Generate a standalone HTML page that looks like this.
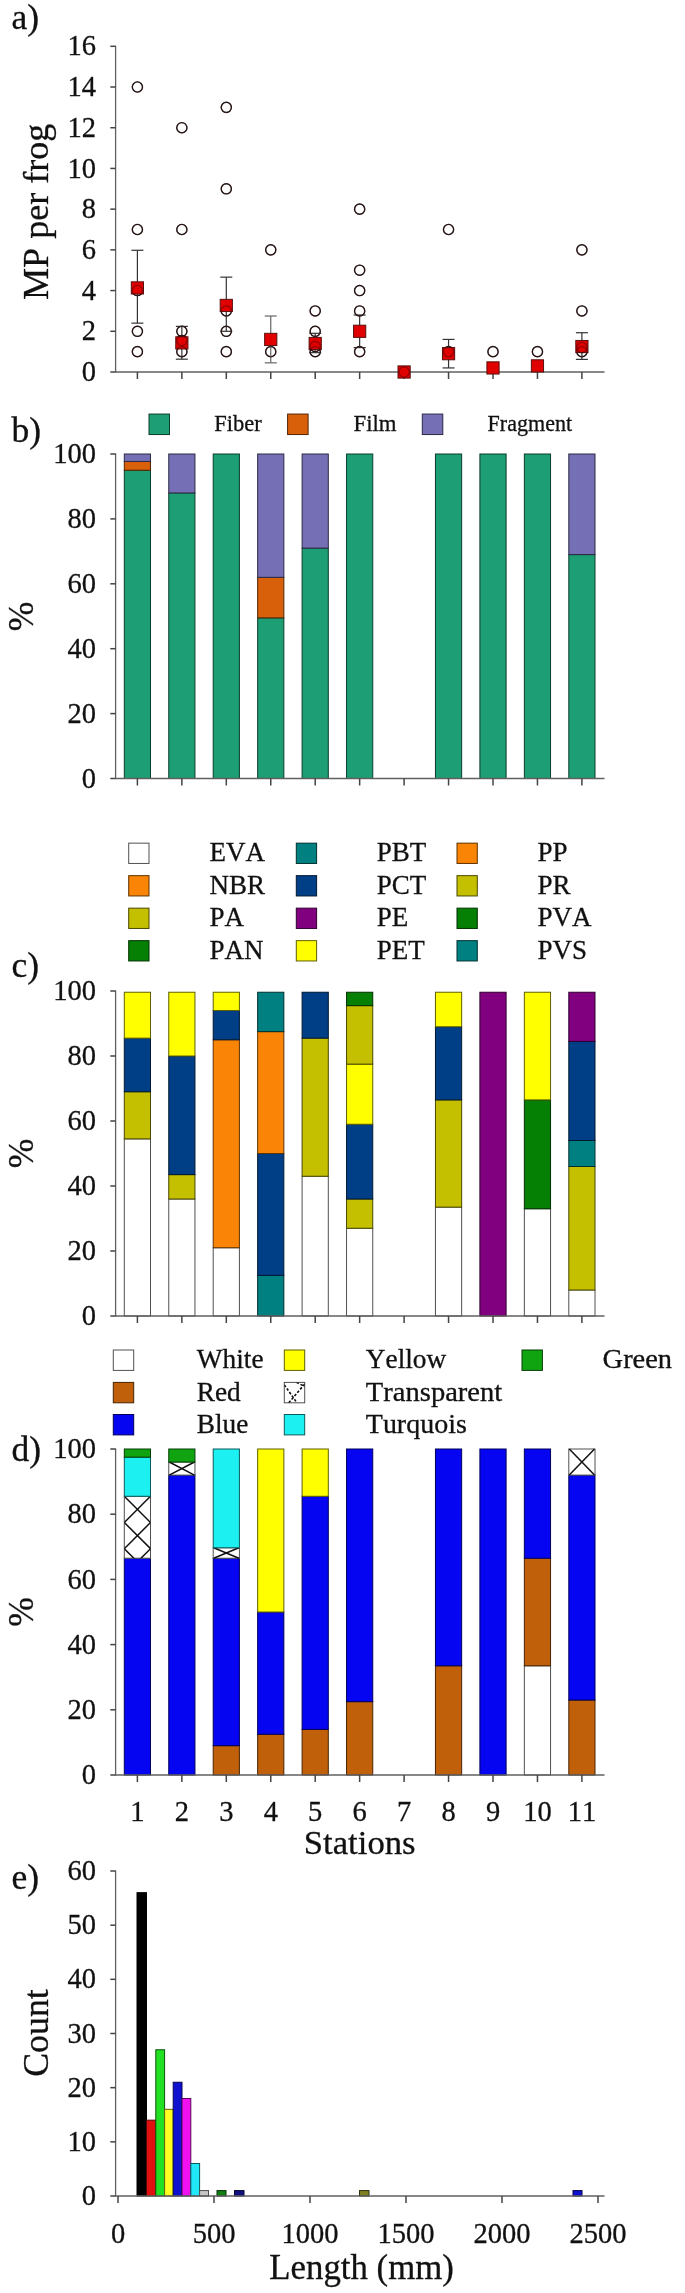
<!DOCTYPE html>
<html><head><meta charset="utf-8"><title>chart</title>
<style>
html,body{margin:0;padding:0;background:#fff;}
body{width:685px;height:2293px;overflow:hidden;font-family:"Liberation Serif",serif;}
svg{display:block;will-change:transform;}
svg text{font-family:"Liberation Serif",serif;font-kerning:none;stroke:#111;stroke-width:0.3px;}
</style></head>
<body>
<svg width="685" height="2293" viewBox="0 0 685 2293">
<rect x="0" y="0" width="685" height="2293" fill="#fff"/>
<text x="11.5" y="28.8" font-size="35.5" text-anchor="start" fill="#111" >a)</text>
<text transform="translate(48.0,211.8) rotate(-90)" font-size="36.1" text-anchor="middle" fill="#111">MP per frog</text>
<line x1="115.60" y1="45.70" x2="115.60" y2="372.60" stroke="#606060" stroke-width="1.3"/>
<line x1="110.30" y1="372.00" x2="115.60" y2="372.00" stroke="#444" stroke-width="1.5"/>
<text x="96.0" y="381.1" font-size="28.5" text-anchor="end" fill="#111" >0</text>
<line x1="110.30" y1="331.29" x2="115.60" y2="331.29" stroke="#444" stroke-width="1.5"/>
<text x="96.0" y="340.4" font-size="28.5" text-anchor="end" fill="#111" >2</text>
<line x1="110.30" y1="290.57" x2="115.60" y2="290.57" stroke="#444" stroke-width="1.5"/>
<text x="96.0" y="299.7" font-size="28.5" text-anchor="end" fill="#111" >4</text>
<line x1="110.30" y1="249.86" x2="115.60" y2="249.86" stroke="#444" stroke-width="1.5"/>
<text x="96.0" y="259.0" font-size="28.5" text-anchor="end" fill="#111" >6</text>
<line x1="110.30" y1="209.15" x2="115.60" y2="209.15" stroke="#444" stroke-width="1.5"/>
<text x="96.0" y="218.2" font-size="28.5" text-anchor="end" fill="#111" >8</text>
<line x1="110.30" y1="168.44" x2="115.60" y2="168.44" stroke="#444" stroke-width="1.5"/>
<text x="96.0" y="177.5" font-size="28.5" text-anchor="end" fill="#111" >10</text>
<line x1="110.30" y1="127.73" x2="115.60" y2="127.73" stroke="#444" stroke-width="1.5"/>
<text x="96.0" y="136.8" font-size="28.5" text-anchor="end" fill="#111" >12</text>
<line x1="110.30" y1="87.01" x2="115.60" y2="87.01" stroke="#444" stroke-width="1.5"/>
<text x="96.0" y="96.1" font-size="28.5" text-anchor="end" fill="#111" >14</text>
<line x1="110.30" y1="46.30" x2="115.60" y2="46.30" stroke="#444" stroke-width="1.5"/>
<text x="96.0" y="55.4" font-size="28.5" text-anchor="end" fill="#111" >16</text>
<line x1="115.00" y1="372.00" x2="604.50" y2="372.00" stroke="#606060" stroke-width="1.3"/>
<line x1="137.40" y1="372.00" x2="137.40" y2="379.00" stroke="#444" stroke-width="1.5"/>
<line x1="181.85" y1="372.00" x2="181.85" y2="379.00" stroke="#444" stroke-width="1.5"/>
<line x1="226.30" y1="372.00" x2="226.30" y2="379.00" stroke="#444" stroke-width="1.5"/>
<line x1="270.75" y1="372.00" x2="270.75" y2="379.00" stroke="#444" stroke-width="1.5"/>
<line x1="315.20" y1="372.00" x2="315.20" y2="379.00" stroke="#444" stroke-width="1.5"/>
<line x1="359.65" y1="372.00" x2="359.65" y2="379.00" stroke="#444" stroke-width="1.5"/>
<line x1="404.10" y1="372.00" x2="404.10" y2="379.00" stroke="#444" stroke-width="1.5"/>
<line x1="448.55" y1="372.00" x2="448.55" y2="379.00" stroke="#444" stroke-width="1.5"/>
<line x1="493.00" y1="372.00" x2="493.00" y2="379.00" stroke="#444" stroke-width="1.5"/>
<line x1="537.45" y1="372.00" x2="537.45" y2="379.00" stroke="#444" stroke-width="1.5"/>
<line x1="581.90" y1="372.00" x2="581.90" y2="379.00" stroke="#444" stroke-width="1.5"/>
<circle cx="137.40" cy="87.01" r="5.1" fill="none" stroke="#222" stroke-width="1.4"/>
<circle cx="137.40" cy="229.51" r="5.1" fill="none" stroke="#222" stroke-width="1.4"/>
<circle cx="137.40" cy="290.57" r="5.1" fill="none" stroke="#222" stroke-width="1.4"/>
<circle cx="137.40" cy="331.29" r="5.1" fill="none" stroke="#222" stroke-width="1.4"/>
<circle cx="137.40" cy="351.64" r="5.1" fill="none" stroke="#222" stroke-width="1.4"/>
<circle cx="181.85" cy="127.73" r="5.1" fill="none" stroke="#222" stroke-width="1.4"/>
<circle cx="181.85" cy="229.51" r="5.1" fill="none" stroke="#222" stroke-width="1.4"/>
<circle cx="181.85" cy="331.29" r="5.1" fill="none" stroke="#222" stroke-width="1.4"/>
<circle cx="181.85" cy="340.45" r="5.1" fill="none" stroke="#222" stroke-width="1.4"/>
<circle cx="181.85" cy="351.64" r="5.1" fill="none" stroke="#222" stroke-width="1.4"/>
<circle cx="226.30" cy="107.37" r="5.1" fill="none" stroke="#222" stroke-width="1.4"/>
<circle cx="226.30" cy="188.79" r="5.1" fill="none" stroke="#222" stroke-width="1.4"/>
<circle cx="226.30" cy="310.93" r="5.1" fill="none" stroke="#222" stroke-width="1.4"/>
<circle cx="226.30" cy="331.29" r="5.1" fill="none" stroke="#222" stroke-width="1.4"/>
<circle cx="226.30" cy="351.64" r="5.1" fill="none" stroke="#222" stroke-width="1.4"/>
<circle cx="270.75" cy="249.86" r="5.1" fill="none" stroke="#222" stroke-width="1.4"/>
<circle cx="270.75" cy="351.64" r="5.1" fill="none" stroke="#222" stroke-width="1.4"/>
<circle cx="315.20" cy="310.93" r="5.1" fill="none" stroke="#222" stroke-width="1.4"/>
<circle cx="315.20" cy="331.29" r="5.1" fill="none" stroke="#222" stroke-width="1.4"/>
<circle cx="315.20" cy="346.55" r="5.1" fill="none" stroke="#222" stroke-width="1.4"/>
<circle cx="315.20" cy="351.64" r="5.1" fill="none" stroke="#222" stroke-width="1.4"/>
<circle cx="359.65" cy="209.15" r="5.1" fill="none" stroke="#222" stroke-width="1.4"/>
<circle cx="359.65" cy="270.22" r="5.1" fill="none" stroke="#222" stroke-width="1.4"/>
<circle cx="359.65" cy="290.57" r="5.1" fill="none" stroke="#222" stroke-width="1.4"/>
<circle cx="359.65" cy="310.93" r="5.1" fill="none" stroke="#222" stroke-width="1.4"/>
<circle cx="359.65" cy="351.64" r="5.1" fill="none" stroke="#222" stroke-width="1.4"/>
<circle cx="404.10" cy="372.00" r="5.1" fill="none" stroke="#222" stroke-width="1.4"/>
<circle cx="448.55" cy="229.51" r="5.1" fill="none" stroke="#222" stroke-width="1.4"/>
<circle cx="448.55" cy="351.64" r="5.1" fill="none" stroke="#222" stroke-width="1.4"/>
<circle cx="493.00" cy="351.64" r="5.1" fill="none" stroke="#222" stroke-width="1.4"/>
<circle cx="537.45" cy="351.64" r="5.1" fill="none" stroke="#222" stroke-width="1.4"/>
<circle cx="581.90" cy="249.86" r="5.1" fill="none" stroke="#222" stroke-width="1.4"/>
<circle cx="581.90" cy="310.93" r="5.1" fill="none" stroke="#222" stroke-width="1.4"/>
<circle cx="581.90" cy="347.57" r="5.1" fill="none" stroke="#222" stroke-width="1.4"/>
<circle cx="581.90" cy="351.64" r="5.1" fill="none" stroke="#222" stroke-width="1.4"/>
<line x1="137.40" y1="323.14" x2="137.40" y2="250.27" stroke="#333" stroke-width="1.2"/>
<line x1="131.40" y1="323.14" x2="143.40" y2="323.14" stroke="#333" stroke-width="1.2"/>
<line x1="131.40" y1="250.27" x2="143.40" y2="250.27" stroke="#333" stroke-width="1.2"/>
<rect x="131.30" y="281.83" width="12.20" height="12.20" fill="#e00000" stroke="#5a1010" stroke-width="1.0"/>
<line x1="181.85" y1="359.18" x2="181.85" y2="326.40" stroke="#333" stroke-width="1.2"/>
<line x1="175.85" y1="359.18" x2="187.85" y2="359.18" stroke="#333" stroke-width="1.2"/>
<line x1="175.85" y1="326.40" x2="187.85" y2="326.40" stroke="#333" stroke-width="1.2"/>
<rect x="175.75" y="336.79" width="12.20" height="12.20" fill="#e00000" stroke="#5a1010" stroke-width="1.0"/>
<line x1="226.30" y1="331.29" x2="226.30" y2="277.14" stroke="#333" stroke-width="1.2"/>
<line x1="220.30" y1="331.29" x2="232.30" y2="331.29" stroke="#333" stroke-width="1.2"/>
<line x1="220.30" y1="277.14" x2="232.30" y2="277.14" stroke="#333" stroke-width="1.2"/>
<rect x="220.20" y="299.34" width="12.20" height="12.20" fill="#e00000" stroke="#5a1010" stroke-width="1.0"/>
<line x1="270.75" y1="362.84" x2="270.75" y2="316.02" stroke="#666" stroke-width="1.2"/>
<line x1="264.75" y1="362.84" x2="276.75" y2="362.84" stroke="#666" stroke-width="1.2"/>
<line x1="264.75" y1="316.02" x2="276.75" y2="316.02" stroke="#666" stroke-width="1.2"/>
<rect x="264.65" y="333.33" width="12.20" height="12.20" fill="#e00000" stroke="#5a1010" stroke-width="1.0"/>
<line x1="315.20" y1="352.66" x2="315.20" y2="333.32" stroke="#333" stroke-width="1.2"/>
<line x1="309.20" y1="352.66" x2="321.20" y2="352.66" stroke="#333" stroke-width="1.2"/>
<line x1="309.20" y1="333.32" x2="321.20" y2="333.32" stroke="#333" stroke-width="1.2"/>
<rect x="309.10" y="337.40" width="12.20" height="12.20" fill="#e00000" stroke="#5a1010" stroke-width="1.0"/>
<line x1="359.65" y1="347.57" x2="359.65" y2="315.00" stroke="#333" stroke-width="1.2"/>
<line x1="353.65" y1="347.57" x2="365.65" y2="347.57" stroke="#333" stroke-width="1.2"/>
<line x1="353.65" y1="315.00" x2="365.65" y2="315.00" stroke="#333" stroke-width="1.2"/>
<rect x="353.55" y="325.19" width="12.20" height="12.20" fill="#e00000" stroke="#5a1010" stroke-width="1.0"/>
<rect x="398.00" y="365.90" width="12.20" height="12.20" fill="#e00000" stroke="#5a1010" stroke-width="1.0"/>
<line x1="448.55" y1="367.93" x2="448.55" y2="339.43" stroke="#333" stroke-width="1.2"/>
<line x1="442.55" y1="367.93" x2="454.55" y2="367.93" stroke="#333" stroke-width="1.2"/>
<line x1="442.55" y1="339.43" x2="454.55" y2="339.43" stroke="#333" stroke-width="1.2"/>
<rect x="442.45" y="347.58" width="12.20" height="12.20" fill="#e00000" stroke="#5a1010" stroke-width="1.0"/>
<rect x="486.90" y="361.83" width="12.20" height="12.20" fill="#e00000" stroke="#5a1010" stroke-width="1.0"/>
<rect x="531.35" y="359.79" width="12.20" height="12.20" fill="#e00000" stroke="#5a1010" stroke-width="1.0"/>
<line x1="581.90" y1="359.38" x2="581.90" y2="332.71" stroke="#333" stroke-width="1.2"/>
<line x1="575.90" y1="359.38" x2="587.90" y2="359.38" stroke="#333" stroke-width="1.2"/>
<line x1="575.90" y1="332.71" x2="587.90" y2="332.71" stroke="#333" stroke-width="1.2"/>
<rect x="575.80" y="340.45" width="12.20" height="12.20" fill="#e00000" stroke="#5a1010" stroke-width="1.0"/>
<circle cx="137.40" cy="87.01" r="5.1" fill="none" stroke="#300" stroke-opacity="0.45" stroke-width="1.2"/>
<circle cx="137.40" cy="229.51" r="5.1" fill="none" stroke="#300" stroke-opacity="0.45" stroke-width="1.2"/>
<circle cx="137.40" cy="290.57" r="5.1" fill="none" stroke="#300" stroke-opacity="0.45" stroke-width="1.2"/>
<circle cx="137.40" cy="331.29" r="5.1" fill="none" stroke="#300" stroke-opacity="0.45" stroke-width="1.2"/>
<circle cx="137.40" cy="351.64" r="5.1" fill="none" stroke="#300" stroke-opacity="0.45" stroke-width="1.2"/>
<circle cx="181.85" cy="127.73" r="5.1" fill="none" stroke="#300" stroke-opacity="0.45" stroke-width="1.2"/>
<circle cx="181.85" cy="229.51" r="5.1" fill="none" stroke="#300" stroke-opacity="0.45" stroke-width="1.2"/>
<circle cx="181.85" cy="331.29" r="5.1" fill="none" stroke="#300" stroke-opacity="0.45" stroke-width="1.2"/>
<circle cx="181.85" cy="340.45" r="5.1" fill="none" stroke="#300" stroke-opacity="0.45" stroke-width="1.2"/>
<circle cx="181.85" cy="351.64" r="5.1" fill="none" stroke="#300" stroke-opacity="0.45" stroke-width="1.2"/>
<circle cx="226.30" cy="107.37" r="5.1" fill="none" stroke="#300" stroke-opacity="0.45" stroke-width="1.2"/>
<circle cx="226.30" cy="188.79" r="5.1" fill="none" stroke="#300" stroke-opacity="0.45" stroke-width="1.2"/>
<circle cx="226.30" cy="310.93" r="5.1" fill="none" stroke="#300" stroke-opacity="0.45" stroke-width="1.2"/>
<circle cx="226.30" cy="331.29" r="5.1" fill="none" stroke="#300" stroke-opacity="0.45" stroke-width="1.2"/>
<circle cx="226.30" cy="351.64" r="5.1" fill="none" stroke="#300" stroke-opacity="0.45" stroke-width="1.2"/>
<circle cx="270.75" cy="249.86" r="5.1" fill="none" stroke="#300" stroke-opacity="0.45" stroke-width="1.2"/>
<circle cx="270.75" cy="351.64" r="5.1" fill="none" stroke="#300" stroke-opacity="0.45" stroke-width="1.2"/>
<circle cx="315.20" cy="310.93" r="5.1" fill="none" stroke="#300" stroke-opacity="0.45" stroke-width="1.2"/>
<circle cx="315.20" cy="331.29" r="5.1" fill="none" stroke="#300" stroke-opacity="0.45" stroke-width="1.2"/>
<circle cx="315.20" cy="346.55" r="5.1" fill="none" stroke="#300" stroke-opacity="0.45" stroke-width="1.2"/>
<circle cx="315.20" cy="351.64" r="5.1" fill="none" stroke="#300" stroke-opacity="0.45" stroke-width="1.2"/>
<circle cx="359.65" cy="209.15" r="5.1" fill="none" stroke="#300" stroke-opacity="0.45" stroke-width="1.2"/>
<circle cx="359.65" cy="270.22" r="5.1" fill="none" stroke="#300" stroke-opacity="0.45" stroke-width="1.2"/>
<circle cx="359.65" cy="290.57" r="5.1" fill="none" stroke="#300" stroke-opacity="0.45" stroke-width="1.2"/>
<circle cx="359.65" cy="310.93" r="5.1" fill="none" stroke="#300" stroke-opacity="0.45" stroke-width="1.2"/>
<circle cx="359.65" cy="351.64" r="5.1" fill="none" stroke="#300" stroke-opacity="0.45" stroke-width="1.2"/>
<circle cx="404.10" cy="372.00" r="5.1" fill="none" stroke="#300" stroke-opacity="0.45" stroke-width="1.2"/>
<circle cx="448.55" cy="229.51" r="5.1" fill="none" stroke="#300" stroke-opacity="0.45" stroke-width="1.2"/>
<circle cx="448.55" cy="351.64" r="5.1" fill="none" stroke="#300" stroke-opacity="0.45" stroke-width="1.2"/>
<circle cx="493.00" cy="351.64" r="5.1" fill="none" stroke="#300" stroke-opacity="0.45" stroke-width="1.2"/>
<circle cx="537.45" cy="351.64" r="5.1" fill="none" stroke="#300" stroke-opacity="0.45" stroke-width="1.2"/>
<circle cx="581.90" cy="249.86" r="5.1" fill="none" stroke="#300" stroke-opacity="0.45" stroke-width="1.2"/>
<circle cx="581.90" cy="310.93" r="5.1" fill="none" stroke="#300" stroke-opacity="0.45" stroke-width="1.2"/>
<circle cx="581.90" cy="347.57" r="5.1" fill="none" stroke="#300" stroke-opacity="0.45" stroke-width="1.2"/>
<circle cx="581.90" cy="351.64" r="5.1" fill="none" stroke="#300" stroke-opacity="0.45" stroke-width="1.2"/>
<rect x="124.30" y="470.23" width="26.20" height="308.27" fill="#1d9e74" stroke="#0b3c2c" stroke-width="1.0"/>
<rect x="124.30" y="461.46" width="26.20" height="8.76" fill="#d9600a" stroke="#522403" stroke-width="1.0"/>
<rect x="124.30" y="454.00" width="26.20" height="7.46" fill="#7570b5" stroke="#2c2a44" stroke-width="1.0"/>
<rect x="168.75" y="492.94" width="26.20" height="285.56" fill="#1d9e74" stroke="#0b3c2c" stroke-width="1.0"/>
<rect x="168.75" y="454.00" width="26.20" height="38.94" fill="#7570b5" stroke="#2c2a44" stroke-width="1.0"/>
<rect x="213.20" y="454.00" width="26.20" height="324.50" fill="#1d9e74" stroke="#0b3c2c" stroke-width="1.0"/>
<rect x="257.65" y="617.87" width="26.20" height="160.63" fill="#1d9e74" stroke="#0b3c2c" stroke-width="1.0"/>
<rect x="257.65" y="577.31" width="26.20" height="40.56" fill="#d9600a" stroke="#522403" stroke-width="1.0"/>
<rect x="257.65" y="454.00" width="26.20" height="123.31" fill="#7570b5" stroke="#2c2a44" stroke-width="1.0"/>
<rect x="302.10" y="548.11" width="26.20" height="230.39" fill="#1d9e74" stroke="#0b3c2c" stroke-width="1.0"/>
<rect x="302.10" y="454.00" width="26.20" height="94.11" fill="#7570b5" stroke="#2c2a44" stroke-width="1.0"/>
<rect x="346.55" y="454.00" width="26.20" height="324.50" fill="#1d9e74" stroke="#0b3c2c" stroke-width="1.0"/>
<rect x="435.45" y="454.00" width="26.20" height="324.50" fill="#1d9e74" stroke="#0b3c2c" stroke-width="1.0"/>
<rect x="479.90" y="454.00" width="26.20" height="324.50" fill="#1d9e74" stroke="#0b3c2c" stroke-width="1.0"/>
<rect x="524.35" y="454.00" width="26.20" height="324.50" fill="#1d9e74" stroke="#0b3c2c" stroke-width="1.0"/>
<rect x="568.80" y="554.60" width="26.20" height="223.90" fill="#1d9e74" stroke="#0b3c2c" stroke-width="1.0"/>
<rect x="568.80" y="454.00" width="26.20" height="100.60" fill="#7570b5" stroke="#2c2a44" stroke-width="1.0"/>
<line x1="115.60" y1="453.40" x2="115.60" y2="779.10" stroke="#606060" stroke-width="1.3"/>
<line x1="110.30" y1="778.50" x2="115.60" y2="778.50" stroke="#444" stroke-width="1.5"/>
<text x="96.0" y="787.6" font-size="28.5" text-anchor="end" fill="#111" >0</text>
<line x1="110.30" y1="713.60" x2="115.60" y2="713.60" stroke="#444" stroke-width="1.5"/>
<text x="96.0" y="722.7" font-size="28.5" text-anchor="end" fill="#111" >20</text>
<line x1="110.30" y1="648.70" x2="115.60" y2="648.70" stroke="#444" stroke-width="1.5"/>
<text x="96.0" y="657.8" font-size="28.5" text-anchor="end" fill="#111" >40</text>
<line x1="110.30" y1="583.80" x2="115.60" y2="583.80" stroke="#444" stroke-width="1.5"/>
<text x="96.0" y="592.9" font-size="28.5" text-anchor="end" fill="#111" >60</text>
<line x1="110.30" y1="518.90" x2="115.60" y2="518.90" stroke="#444" stroke-width="1.5"/>
<text x="96.0" y="528.0" font-size="28.5" text-anchor="end" fill="#111" >80</text>
<line x1="110.30" y1="454.00" x2="115.60" y2="454.00" stroke="#444" stroke-width="1.5"/>
<text x="96.0" y="463.1" font-size="28.5" text-anchor="end" fill="#111" >100</text>
<line x1="115.00" y1="778.50" x2="604.50" y2="778.50" stroke="#606060" stroke-width="1.3"/>
<line x1="137.40" y1="778.50" x2="137.40" y2="785.50" stroke="#444" stroke-width="1.5"/>
<line x1="181.85" y1="778.50" x2="181.85" y2="785.50" stroke="#444" stroke-width="1.5"/>
<line x1="226.30" y1="778.50" x2="226.30" y2="785.50" stroke="#444" stroke-width="1.5"/>
<line x1="270.75" y1="778.50" x2="270.75" y2="785.50" stroke="#444" stroke-width="1.5"/>
<line x1="315.20" y1="778.50" x2="315.20" y2="785.50" stroke="#444" stroke-width="1.5"/>
<line x1="359.65" y1="778.50" x2="359.65" y2="785.50" stroke="#444" stroke-width="1.5"/>
<line x1="404.10" y1="778.50" x2="404.10" y2="785.50" stroke="#444" stroke-width="1.5"/>
<line x1="448.55" y1="778.50" x2="448.55" y2="785.50" stroke="#444" stroke-width="1.5"/>
<line x1="493.00" y1="778.50" x2="493.00" y2="785.50" stroke="#444" stroke-width="1.5"/>
<line x1="537.45" y1="778.50" x2="537.45" y2="785.50" stroke="#444" stroke-width="1.5"/>
<line x1="581.90" y1="778.50" x2="581.90" y2="785.50" stroke="#444" stroke-width="1.5"/>
<text x="11.5" y="442.3" font-size="35.5" text-anchor="start" fill="#111" >b)</text>
<text transform="translate(33.4,616.5) rotate(-90)" font-size="35.5" text-anchor="middle" fill="#111">%</text>
<rect x="149.00" y="414.05" width="20.50" height="20.50" fill="#1d9e74" stroke="#0b3c2c" stroke-width="1.0"/>
<text x="214.2" y="431.0" font-size="22.8" text-anchor="start" fill="#111"  textLength="47.5" lengthAdjust="spacingAndGlyphs">Fiber</text>
<rect x="287.60" y="414.05" width="20.50" height="20.50" fill="#d9600a" stroke="#522403" stroke-width="1.0"/>
<text x="353.5" y="431.0" font-size="22.8" text-anchor="start" fill="#111"  textLength="43" lengthAdjust="spacingAndGlyphs">Film</text>
<rect x="422.30" y="414.05" width="20.50" height="20.50" fill="#7570b5" stroke="#2c2a44" stroke-width="1.0"/>
<text x="487.6" y="431.0" font-size="22.8" text-anchor="start" fill="#111"  textLength="84.5" lengthAdjust="spacingAndGlyphs">Fragment</text>
<rect x="124.30" y="1138.88" width="26.20" height="177.12" fill="#ffffff" stroke="#505050" stroke-width="1.0"/>
<rect x="124.30" y="1091.75" width="26.20" height="47.12" fill="#c4c000" stroke="#4a4800" stroke-width="1.0"/>
<rect x="124.30" y="1038.12" width="26.20" height="53.62" fill="#003f86" stroke="#001732" stroke-width="1.0"/>
<rect x="124.30" y="992.24" width="26.20" height="45.89" fill="#ffff00" stroke="#606000" stroke-width="1.0"/>
<rect x="168.75" y="1199.00" width="26.20" height="117.00" fill="#ffffff" stroke="#505050" stroke-width="1.0"/>
<rect x="168.75" y="1174.62" width="26.20" height="24.38" fill="#c4c000" stroke="#4a4800" stroke-width="1.0"/>
<rect x="168.75" y="1056.00" width="26.20" height="118.62" fill="#003f86" stroke="#001732" stroke-width="1.0"/>
<rect x="168.75" y="992.24" width="26.20" height="63.76" fill="#ffff00" stroke="#606000" stroke-width="1.0"/>
<rect x="213.20" y="1247.75" width="26.20" height="68.25" fill="#ffffff" stroke="#505050" stroke-width="1.0"/>
<rect x="213.20" y="1039.75" width="26.20" height="208.00" fill="#fa8405" stroke="#5f3201" stroke-width="1.0"/>
<rect x="213.20" y="1010.50" width="26.20" height="29.25" fill="#003f86" stroke="#001732" stroke-width="1.0"/>
<rect x="213.20" y="992.24" width="26.20" height="18.26" fill="#ffff00" stroke="#606000" stroke-width="1.0"/>
<rect x="257.65" y="1275.38" width="26.20" height="40.62" fill="#008080" stroke="#003030" stroke-width="1.0"/>
<rect x="257.65" y="1153.50" width="26.20" height="121.88" fill="#003f86" stroke="#001732" stroke-width="1.0"/>
<rect x="257.65" y="1031.62" width="26.20" height="121.88" fill="#fa8405" stroke="#5f3201" stroke-width="1.0"/>
<rect x="257.65" y="992.24" width="26.20" height="39.39" fill="#008080" stroke="#003030" stroke-width="1.0"/>
<rect x="302.10" y="1176.25" width="26.20" height="139.75" fill="#ffffff" stroke="#505050" stroke-width="1.0"/>
<rect x="302.10" y="1038.12" width="26.20" height="138.12" fill="#c4c000" stroke="#4a4800" stroke-width="1.0"/>
<rect x="302.10" y="992.24" width="26.20" height="45.89" fill="#003f86" stroke="#001732" stroke-width="1.0"/>
<rect x="346.55" y="1228.25" width="26.20" height="87.75" fill="#ffffff" stroke="#505050" stroke-width="1.0"/>
<rect x="346.55" y="1199.00" width="26.20" height="29.25" fill="#c4c000" stroke="#4a4800" stroke-width="1.0"/>
<rect x="346.55" y="1124.25" width="26.20" height="74.75" fill="#003f86" stroke="#001732" stroke-width="1.0"/>
<rect x="346.55" y="1064.12" width="26.20" height="60.12" fill="#ffff00" stroke="#606000" stroke-width="1.0"/>
<rect x="346.55" y="1005.62" width="26.20" height="58.50" fill="#c4c000" stroke="#4a4800" stroke-width="1.0"/>
<rect x="346.55" y="992.24" width="26.20" height="13.39" fill="#058005" stroke="#013001" stroke-width="1.0"/>
<rect x="435.45" y="1207.12" width="26.20" height="108.88" fill="#ffffff" stroke="#505050" stroke-width="1.0"/>
<rect x="435.45" y="1099.88" width="26.20" height="107.25" fill="#c4c000" stroke="#4a4800" stroke-width="1.0"/>
<rect x="435.45" y="1026.75" width="26.20" height="73.12" fill="#003f86" stroke="#001732" stroke-width="1.0"/>
<rect x="435.45" y="992.24" width="26.20" height="34.51" fill="#ffff00" stroke="#606000" stroke-width="1.0"/>
<rect x="479.90" y="992.24" width="26.20" height="323.76" fill="#800080" stroke="#300030" stroke-width="1.0"/>
<rect x="524.35" y="1208.75" width="26.20" height="107.25" fill="#ffffff" stroke="#505050" stroke-width="1.0"/>
<rect x="524.35" y="1099.88" width="26.20" height="108.88" fill="#058005" stroke="#013001" stroke-width="1.0"/>
<rect x="524.35" y="992.24" width="26.20" height="107.64" fill="#ffff00" stroke="#606000" stroke-width="1.0"/>
<rect x="568.80" y="1290.00" width="26.20" height="26.00" fill="#ffffff" stroke="#505050" stroke-width="1.0"/>
<rect x="568.80" y="1166.50" width="26.20" height="123.50" fill="#c4c000" stroke="#4a4800" stroke-width="1.0"/>
<rect x="568.80" y="1140.50" width="26.20" height="26.00" fill="#008080" stroke="#003030" stroke-width="1.0"/>
<rect x="568.80" y="1041.38" width="26.20" height="99.12" fill="#003f86" stroke="#001732" stroke-width="1.0"/>
<rect x="568.80" y="992.24" width="26.20" height="49.14" fill="#800080" stroke="#300030" stroke-width="1.0"/>
<line x1="115.60" y1="990.40" x2="115.60" y2="1316.60" stroke="#606060" stroke-width="1.3"/>
<line x1="110.30" y1="1316.00" x2="115.60" y2="1316.00" stroke="#444" stroke-width="1.5"/>
<text x="96.0" y="1325.1" font-size="28.5" text-anchor="end" fill="#111" >0</text>
<line x1="110.30" y1="1251.00" x2="115.60" y2="1251.00" stroke="#444" stroke-width="1.5"/>
<text x="96.0" y="1260.1" font-size="28.5" text-anchor="end" fill="#111" >20</text>
<line x1="110.30" y1="1186.00" x2="115.60" y2="1186.00" stroke="#444" stroke-width="1.5"/>
<text x="96.0" y="1195.1" font-size="28.5" text-anchor="end" fill="#111" >40</text>
<line x1="110.30" y1="1121.00" x2="115.60" y2="1121.00" stroke="#444" stroke-width="1.5"/>
<text x="96.0" y="1130.1" font-size="28.5" text-anchor="end" fill="#111" >60</text>
<line x1="110.30" y1="1056.00" x2="115.60" y2="1056.00" stroke="#444" stroke-width="1.5"/>
<text x="96.0" y="1065.1" font-size="28.5" text-anchor="end" fill="#111" >80</text>
<line x1="110.30" y1="991.00" x2="115.60" y2="991.00" stroke="#444" stroke-width="1.5"/>
<text x="96.0" y="1000.1" font-size="28.5" text-anchor="end" fill="#111" >100</text>
<line x1="115.00" y1="1316.00" x2="604.50" y2="1316.00" stroke="#606060" stroke-width="1.3"/>
<line x1="137.40" y1="1316.00" x2="137.40" y2="1323.00" stroke="#444" stroke-width="1.5"/>
<line x1="181.85" y1="1316.00" x2="181.85" y2="1323.00" stroke="#444" stroke-width="1.5"/>
<line x1="226.30" y1="1316.00" x2="226.30" y2="1323.00" stroke="#444" stroke-width="1.5"/>
<line x1="270.75" y1="1316.00" x2="270.75" y2="1323.00" stroke="#444" stroke-width="1.5"/>
<line x1="315.20" y1="1316.00" x2="315.20" y2="1323.00" stroke="#444" stroke-width="1.5"/>
<line x1="359.65" y1="1316.00" x2="359.65" y2="1323.00" stroke="#444" stroke-width="1.5"/>
<line x1="404.10" y1="1316.00" x2="404.10" y2="1323.00" stroke="#444" stroke-width="1.5"/>
<line x1="448.55" y1="1316.00" x2="448.55" y2="1323.00" stroke="#444" stroke-width="1.5"/>
<line x1="493.00" y1="1316.00" x2="493.00" y2="1323.00" stroke="#444" stroke-width="1.5"/>
<line x1="537.45" y1="1316.00" x2="537.45" y2="1323.00" stroke="#444" stroke-width="1.5"/>
<line x1="581.90" y1="1316.00" x2="581.90" y2="1323.00" stroke="#444" stroke-width="1.5"/>
<text x="11.5" y="977.0" font-size="35.5" text-anchor="start" fill="#111" >c)</text>
<text transform="translate(33.4,1153.5) rotate(-90)" font-size="35.5" text-anchor="middle" fill="#111">%</text>
<rect x="128.70" y="843.15" width="20.30" height="20.30" fill="#ffffff" stroke="#505050" stroke-width="1.0"/>
<text x="209.6" y="861.3" font-size="27" text-anchor="start" fill="#111" >EVA</text>
<rect x="128.70" y="875.65" width="20.30" height="20.30" fill="#fa8405" stroke="#5f3201" stroke-width="1.0"/>
<text x="209.6" y="893.8" font-size="27" text-anchor="start" fill="#111" >NBR</text>
<rect x="128.70" y="908.15" width="20.30" height="20.30" fill="#c4c000" stroke="#4a4800" stroke-width="1.0"/>
<text x="209.6" y="926.3" font-size="27" text-anchor="start" fill="#111" >PA</text>
<rect x="128.70" y="940.65" width="20.30" height="20.30" fill="#058005" stroke="#013001" stroke-width="1.0"/>
<text x="209.6" y="958.8" font-size="27" text-anchor="start" fill="#111" >PAN</text>
<rect x="296.30" y="843.15" width="20.30" height="20.30" fill="#008080" stroke="#003030" stroke-width="1.0"/>
<text x="376.8" y="861.3" font-size="27" text-anchor="start" fill="#111" >PBT</text>
<rect x="296.30" y="875.65" width="20.30" height="20.30" fill="#003f86" stroke="#001732" stroke-width="1.0"/>
<text x="376.8" y="893.8" font-size="27" text-anchor="start" fill="#111" >PCT</text>
<rect x="296.30" y="908.15" width="20.30" height="20.30" fill="#800080" stroke="#300030" stroke-width="1.0"/>
<text x="376.8" y="926.3" font-size="27" text-anchor="start" fill="#111" >PE</text>
<rect x="296.30" y="940.65" width="20.30" height="20.30" fill="#ffff00" stroke="#606000" stroke-width="1.0"/>
<text x="376.8" y="958.8" font-size="27" text-anchor="start" fill="#111" >PET</text>
<rect x="457.00" y="843.15" width="20.30" height="20.30" fill="#fa8405" stroke="#5f3201" stroke-width="1.0"/>
<text x="537.4" y="861.3" font-size="27" text-anchor="start" fill="#111" >PP</text>
<rect x="457.00" y="875.65" width="20.30" height="20.30" fill="#c4c000" stroke="#4a4800" stroke-width="1.0"/>
<text x="537.4" y="893.8" font-size="27" text-anchor="start" fill="#111" >PR</text>
<rect x="457.00" y="908.15" width="20.30" height="20.30" fill="#058005" stroke="#013001" stroke-width="1.0"/>
<text x="537.4" y="926.3" font-size="27" text-anchor="start" fill="#111" >PVA</text>
<rect x="457.00" y="940.65" width="20.30" height="20.30" fill="#008080" stroke="#003030" stroke-width="1.0"/>
<text x="537.4" y="958.8" font-size="27" text-anchor="start" fill="#111" >PVS</text>
<rect x="124.30" y="1558.21" width="26.20" height="216.79" fill="#0505f2" stroke="#01015b" stroke-width="1.0"/>
<rect x="124.30" y="1496.27" width="26.20" height="61.94" fill="#ffffff" stroke="#505050" stroke-width="1.0"/>
<clipPath id="c279"><rect x="124.30" y="1496.27" width="26.20" height="61.94"/></clipPath>
<g clip-path="url(#c279)" stroke="#111" stroke-width="1.5">
<line x1="124.30" y1="1470.07" x2="150.50" y2="1496.27"/>
<line x1="124.30" y1="1496.27" x2="150.50" y2="1470.07"/>
<line x1="124.30" y1="1496.27" x2="150.50" y2="1522.47"/>
<line x1="124.30" y1="1522.47" x2="150.50" y2="1496.27"/>
<line x1="124.30" y1="1522.47" x2="150.50" y2="1548.67"/>
<line x1="124.30" y1="1548.67" x2="150.50" y2="1522.47"/>
<line x1="124.30" y1="1548.67" x2="150.50" y2="1574.87"/>
<line x1="124.30" y1="1574.87" x2="150.50" y2="1548.67"/>
<line x1="124.30" y1="1574.87" x2="150.50" y2="1601.07"/>
<line x1="124.30" y1="1601.07" x2="150.50" y2="1574.87"/>
</g>
<rect x="124.30" y="1457.15" width="26.20" height="39.12" fill="#1cf0f0" stroke="#0a5b5b" stroke-width="1.0"/>
<rect x="124.30" y="1449.00" width="26.20" height="8.15" fill="#10a510" stroke="#063e06" stroke-width="1.0"/>
<rect x="168.75" y="1475.08" width="26.20" height="299.92" fill="#0505f2" stroke="#01015b" stroke-width="1.0"/>
<rect x="168.75" y="1462.04" width="26.20" height="13.04" fill="#ffffff" stroke="#505050" stroke-width="1.0"/>
<g stroke="#111" stroke-width="1.5">
<line x1="169.25" y1="1462.04" x2="194.45" y2="1475.08"/>
<line x1="169.25" y1="1475.08" x2="194.45" y2="1462.04"/>
</g>
<rect x="168.75" y="1449.00" width="26.20" height="13.04" fill="#10a510" stroke="#063e06" stroke-width="1.0"/>
<rect x="213.20" y="1745.66" width="26.20" height="29.34" fill="#c0600a" stroke="#482403" stroke-width="1.0"/>
<rect x="213.20" y="1558.21" width="26.20" height="187.45" fill="#0505f2" stroke="#01015b" stroke-width="1.0"/>
<rect x="213.20" y="1547.78" width="26.20" height="10.43" fill="#ffffff" stroke="#505050" stroke-width="1.0"/>
<g stroke="#111" stroke-width="1.5">
<line x1="213.70" y1="1547.78" x2="238.90" y2="1558.21"/>
<line x1="213.70" y1="1558.21" x2="238.90" y2="1547.78"/>
</g>
<rect x="213.20" y="1449.00" width="26.20" height="98.78" fill="#1cf0f0" stroke="#0a5b5b" stroke-width="1.0"/>
<rect x="257.65" y="1734.25" width="26.20" height="40.75" fill="#c0600a" stroke="#482403" stroke-width="1.0"/>
<rect x="257.65" y="1612.00" width="26.20" height="122.25" fill="#0505f2" stroke="#01015b" stroke-width="1.0"/>
<rect x="257.65" y="1449.00" width="26.20" height="163.00" fill="#ffff00" stroke="#606000" stroke-width="1.0"/>
<rect x="302.10" y="1729.36" width="26.20" height="45.64" fill="#c0600a" stroke="#482403" stroke-width="1.0"/>
<rect x="302.10" y="1496.27" width="26.20" height="233.09" fill="#0505f2" stroke="#01015b" stroke-width="1.0"/>
<rect x="302.10" y="1449.00" width="26.20" height="47.27" fill="#ffff00" stroke="#606000" stroke-width="1.0"/>
<rect x="346.55" y="1701.65" width="26.20" height="73.35" fill="#c0600a" stroke="#482403" stroke-width="1.0"/>
<rect x="346.55" y="1449.00" width="26.20" height="252.65" fill="#0505f2" stroke="#01015b" stroke-width="1.0"/>
<rect x="435.45" y="1665.79" width="26.20" height="109.21" fill="#c0600a" stroke="#482403" stroke-width="1.0"/>
<rect x="435.45" y="1449.00" width="26.20" height="216.79" fill="#0505f2" stroke="#01015b" stroke-width="1.0"/>
<rect x="479.90" y="1449.00" width="26.20" height="326.00" fill="#0505f2" stroke="#01015b" stroke-width="1.0"/>
<rect x="524.35" y="1665.79" width="26.20" height="109.21" fill="#ffffff" stroke="#505050" stroke-width="1.0"/>
<rect x="524.35" y="1558.21" width="26.20" height="107.58" fill="#c0600a" stroke="#482403" stroke-width="1.0"/>
<rect x="524.35" y="1449.00" width="26.20" height="109.21" fill="#0505f2" stroke="#01015b" stroke-width="1.0"/>
<rect x="568.80" y="1700.02" width="26.20" height="74.98" fill="#c0600a" stroke="#482403" stroke-width="1.0"/>
<rect x="568.80" y="1475.08" width="26.20" height="224.94" fill="#0505f2" stroke="#01015b" stroke-width="1.0"/>
<rect x="568.80" y="1449.00" width="26.20" height="26.08" fill="#ffffff" stroke="#505050" stroke-width="1.0"/>
<g stroke="#111" stroke-width="1.5">
<line x1="569.30" y1="1449.00" x2="594.50" y2="1475.08"/>
<line x1="569.30" y1="1475.08" x2="594.50" y2="1449.00"/>
</g>
<line x1="115.60" y1="1448.40" x2="115.60" y2="1775.60" stroke="#606060" stroke-width="1.3"/>
<line x1="110.30" y1="1775.00" x2="115.60" y2="1775.00" stroke="#444" stroke-width="1.5"/>
<text x="96.0" y="1784.1" font-size="28.5" text-anchor="end" fill="#111" >0</text>
<line x1="110.30" y1="1709.80" x2="115.60" y2="1709.80" stroke="#444" stroke-width="1.5"/>
<text x="96.0" y="1718.9" font-size="28.5" text-anchor="end" fill="#111" >20</text>
<line x1="110.30" y1="1644.60" x2="115.60" y2="1644.60" stroke="#444" stroke-width="1.5"/>
<text x="96.0" y="1653.7" font-size="28.5" text-anchor="end" fill="#111" >40</text>
<line x1="110.30" y1="1579.40" x2="115.60" y2="1579.40" stroke="#444" stroke-width="1.5"/>
<text x="96.0" y="1588.5" font-size="28.5" text-anchor="end" fill="#111" >60</text>
<line x1="110.30" y1="1514.20" x2="115.60" y2="1514.20" stroke="#444" stroke-width="1.5"/>
<text x="96.0" y="1523.3" font-size="28.5" text-anchor="end" fill="#111" >80</text>
<line x1="110.30" y1="1449.00" x2="115.60" y2="1449.00" stroke="#444" stroke-width="1.5"/>
<text x="96.0" y="1458.1" font-size="28.5" text-anchor="end" fill="#111" >100</text>
<line x1="115.00" y1="1775.00" x2="604.50" y2="1775.00" stroke="#606060" stroke-width="1.3"/>
<line x1="137.40" y1="1775.00" x2="137.40" y2="1782.00" stroke="#444" stroke-width="1.5"/>
<line x1="181.85" y1="1775.00" x2="181.85" y2="1782.00" stroke="#444" stroke-width="1.5"/>
<line x1="226.30" y1="1775.00" x2="226.30" y2="1782.00" stroke="#444" stroke-width="1.5"/>
<line x1="270.75" y1="1775.00" x2="270.75" y2="1782.00" stroke="#444" stroke-width="1.5"/>
<line x1="315.20" y1="1775.00" x2="315.20" y2="1782.00" stroke="#444" stroke-width="1.5"/>
<line x1="359.65" y1="1775.00" x2="359.65" y2="1782.00" stroke="#444" stroke-width="1.5"/>
<line x1="404.10" y1="1775.00" x2="404.10" y2="1782.00" stroke="#444" stroke-width="1.5"/>
<line x1="448.55" y1="1775.00" x2="448.55" y2="1782.00" stroke="#444" stroke-width="1.5"/>
<line x1="493.00" y1="1775.00" x2="493.00" y2="1782.00" stroke="#444" stroke-width="1.5"/>
<line x1="537.45" y1="1775.00" x2="537.45" y2="1782.00" stroke="#444" stroke-width="1.5"/>
<line x1="581.90" y1="1775.00" x2="581.90" y2="1782.00" stroke="#444" stroke-width="1.5"/>
<text x="11.5" y="1461.0" font-size="35.5" text-anchor="start" fill="#111" >d)</text>
<text transform="translate(33.4,1612.0) rotate(-90)" font-size="35.5" text-anchor="middle" fill="#111">%</text>
<rect x="113.30" y="1350.00" width="20.40" height="20.40" fill="#ffffff" stroke="#505050" stroke-width="1.0"/>
<text x="196.8" y="1368.3" font-size="27.3" text-anchor="start" fill="#111" >White</text>
<rect x="113.30" y="1382.40" width="20.40" height="20.40" fill="#c0600a" stroke="#482403" stroke-width="1.0"/>
<text x="196.8" y="1400.7" font-size="27.3" text-anchor="start" fill="#111" >Red</text>
<rect x="113.30" y="1414.50" width="20.40" height="20.40" fill="#0505f2" stroke="#01015b" stroke-width="1.0"/>
<text x="196.8" y="1432.8" font-size="27.3" text-anchor="start" fill="#111" >Blue</text>
<rect x="284.30" y="1350.00" width="20.40" height="20.40" fill="#ffff00" stroke="#606000" stroke-width="1.0"/>
<text x="365.8" y="1368.3" font-size="27.3" text-anchor="start" fill="#111" >Yellow</text>
<rect x="284.30" y="1382.40" width="20.40" height="20.40" fill="#ffffff" stroke="#505050" stroke-width="1.0"/>
<clipPath id="c366"><rect x="284.30" y="1382.40" width="20.40" height="20.40"/></clipPath>
<g clip-path="url(#c366)" stroke="#111" stroke-width="1.6" stroke-dasharray="2.6 1.8">
<line x1="284.30" y1="1384.85" x2="296.95" y2="1402.80"/>
<line x1="304.70" y1="1384.03" x2="288.79" y2="1402.80"/>
<line x1="296.54" y1="1382.40" x2="304.70" y2="1386.48"/>
</g>
<text x="365.8" y="1400.7" font-size="27.3" text-anchor="start" fill="#111"  textLength="136.5" lengthAdjust="spacingAndGlyphs">Transparent</text>
<rect x="284.30" y="1414.50" width="20.40" height="20.40" fill="#1cf0f0" stroke="#0a5b5b" stroke-width="1.0"/>
<text x="365.8" y="1432.8" font-size="27.3" text-anchor="start" fill="#111"  textLength="101" lengthAdjust="spacingAndGlyphs">Turquois</text>
<rect x="522.00" y="1350.00" width="20.40" height="20.40" fill="#10a510" stroke="#063e06" stroke-width="1.0"/>
<text x="602.6" y="1368.3" font-size="27.3" text-anchor="start" fill="#111"  textLength="69.5" lengthAdjust="spacingAndGlyphs">Green</text>
<text x="137.4" y="1821.0" font-size="28.5" text-anchor="middle" fill="#111" >1</text>
<text x="181.9" y="1821.0" font-size="28.5" text-anchor="middle" fill="#111" >2</text>
<text x="226.3" y="1821.0" font-size="28.5" text-anchor="middle" fill="#111" >3</text>
<text x="270.8" y="1821.0" font-size="28.5" text-anchor="middle" fill="#111" >4</text>
<text x="315.2" y="1821.0" font-size="28.5" text-anchor="middle" fill="#111" >5</text>
<text x="359.6" y="1821.0" font-size="28.5" text-anchor="middle" fill="#111" >6</text>
<text x="404.1" y="1821.0" font-size="28.5" text-anchor="middle" fill="#111" >7</text>
<text x="448.6" y="1821.0" font-size="28.5" text-anchor="middle" fill="#111" >8</text>
<text x="493.0" y="1821.0" font-size="28.5" text-anchor="middle" fill="#111" >9</text>
<text x="537.5" y="1821.0" font-size="28.5" text-anchor="middle" fill="#111" >10</text>
<text x="581.9" y="1821.0" font-size="28.5" text-anchor="middle" fill="#111" >11</text>
<text x="359.7" y="1853.5" font-size="34.7" text-anchor="middle" fill="#111" >Stations</text>
<rect x="137.00" y="1892.67" width="9.50" height="303.33" fill="#000000" stroke="#000000" stroke-width="1.0"/>
<rect x="146.50" y="2120.17" width="9.30" height="75.83" fill="#e01010" stroke="#550606" stroke-width="1.0"/>
<rect x="155.80" y="2049.75" width="8.80" height="146.25" fill="#22e022" stroke="#0c550c" stroke-width="1.0"/>
<rect x="164.60" y="2109.33" width="8.60" height="86.67" fill="#ffff20" stroke="#60600c" stroke-width="1.0"/>
<rect x="173.20" y="2082.25" width="8.80" height="113.75" fill="#1010d0" stroke="#06064f" stroke-width="1.0"/>
<rect x="182.00" y="2098.50" width="8.80" height="97.50" fill="#f010f0" stroke="#5b065b" stroke-width="1.0"/>
<rect x="190.80" y="2163.50" width="8.80" height="32.50" fill="#20e8f8" stroke="#0c585e" stroke-width="1.0"/>
<rect x="199.60" y="2190.58" width="8.90" height="5.42" fill="#c8c8c8" stroke="#4c4c4c" stroke-width="1.0"/>
<rect x="217.00" y="2190.58" width="9.00" height="5.42" fill="#108010" stroke="#063006" stroke-width="1.0"/>
<rect x="234.50" y="2190.58" width="9.50" height="5.42" fill="#101080" stroke="#060630" stroke-width="1.0"/>
<rect x="359.50" y="2190.58" width="9.50" height="5.42" fill="#808020" stroke="#30300c" stroke-width="1.0"/>
<rect x="573.00" y="2190.58" width="9.00" height="5.42" fill="#1010d0" stroke="#06064f" stroke-width="1.0"/>
<line x1="115.60" y1="1870.40" x2="115.60" y2="2196.60" stroke="#606060" stroke-width="1.3"/>
<line x1="110.30" y1="2196.00" x2="115.60" y2="2196.00" stroke="#444" stroke-width="1.5"/>
<text x="96.0" y="2205.1" font-size="28.5" text-anchor="end" fill="#111" >0</text>
<line x1="110.30" y1="2141.83" x2="115.60" y2="2141.83" stroke="#444" stroke-width="1.5"/>
<text x="96.0" y="2150.9" font-size="28.5" text-anchor="end" fill="#111" >10</text>
<line x1="110.30" y1="2087.67" x2="115.60" y2="2087.67" stroke="#444" stroke-width="1.5"/>
<text x="96.0" y="2096.8" font-size="28.5" text-anchor="end" fill="#111" >20</text>
<line x1="110.30" y1="2033.50" x2="115.60" y2="2033.50" stroke="#444" stroke-width="1.5"/>
<text x="96.0" y="2042.6" font-size="28.5" text-anchor="end" fill="#111" >30</text>
<line x1="110.30" y1="1979.33" x2="115.60" y2="1979.33" stroke="#444" stroke-width="1.5"/>
<text x="96.0" y="1988.4" font-size="28.5" text-anchor="end" fill="#111" >40</text>
<line x1="110.30" y1="1925.17" x2="115.60" y2="1925.17" stroke="#444" stroke-width="1.5"/>
<text x="96.0" y="1934.3" font-size="28.5" text-anchor="end" fill="#111" >50</text>
<line x1="110.30" y1="1871.00" x2="115.60" y2="1871.00" stroke="#444" stroke-width="1.5"/>
<text x="96.0" y="1880.1" font-size="28.5" text-anchor="end" fill="#111" >60</text>
<line x1="115.00" y1="2196.00" x2="604.50" y2="2196.00" stroke="#606060" stroke-width="1.3"/>
<line x1="118.00" y1="2196.00" x2="118.00" y2="2203.00" stroke="#444" stroke-width="1.5"/>
<text x="118.0" y="2242.5" font-size="28.5" text-anchor="middle" fill="#111" >0</text>
<line x1="214.00" y1="2196.00" x2="214.00" y2="2203.00" stroke="#444" stroke-width="1.5"/>
<text x="214.0" y="2242.5" font-size="28.5" text-anchor="middle" fill="#111" >500</text>
<line x1="310.00" y1="2196.00" x2="310.00" y2="2203.00" stroke="#444" stroke-width="1.5"/>
<text x="310.0" y="2242.5" font-size="28.5" text-anchor="middle" fill="#111" >1000</text>
<line x1="406.00" y1="2196.00" x2="406.00" y2="2203.00" stroke="#444" stroke-width="1.5"/>
<text x="406.0" y="2242.5" font-size="28.5" text-anchor="middle" fill="#111" >1500</text>
<line x1="502.00" y1="2196.00" x2="502.00" y2="2203.00" stroke="#444" stroke-width="1.5"/>
<text x="502.0" y="2242.5" font-size="28.5" text-anchor="middle" fill="#111" >2000</text>
<line x1="598.00" y1="2196.00" x2="598.00" y2="2203.00" stroke="#444" stroke-width="1.5"/>
<text x="598.0" y="2242.5" font-size="28.5" text-anchor="middle" fill="#111" >2500</text>
<text x="11.5" y="1888.5" font-size="35.5" text-anchor="start" fill="#111" >e)</text>
<text transform="translate(48.0,2033.0) rotate(-90)" font-size="35.8" text-anchor="middle" fill="#111">Count</text>
<text x="361.6" y="2279.2" font-size="34.8" text-anchor="middle" fill="#111" >Length (mm)</text>
</svg>
</body></html>
